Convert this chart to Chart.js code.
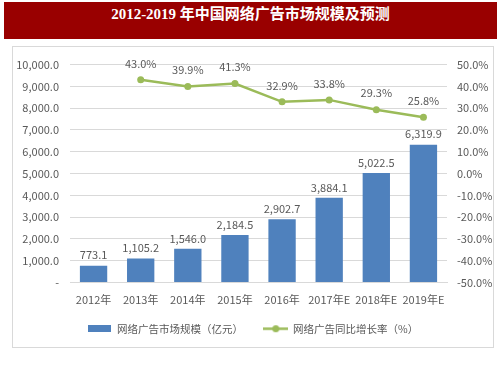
<!DOCTYPE html>
<html>
<head>
<meta charset="utf-8">
<script src="https://cdn.jsdelivr.net/npm/chart.js@4"></script>
<style>
  body { margin: 0; background: #fff; width: 503px; height: 378px; position: relative; overflow: hidden; }
  #title {
    position: absolute; left: 4px; top: 2px; width: 493px; height: 37px;
    background: #990000; color: #fff; text-align: center; line-height: 37px;
    font: bold 15px "Liberation Serif", "Noto Sans CJK SC", serif;
  }
  #box {
    position: absolute; left: 12px; top: 46px; width: 480px; height: 300px;
    border: 1px solid #d9d9d9;
  }
</style>
</head>
<body>
<div id="title">2012-2019 年中国网络广告市场规模及预测</div>
<div id="box"><canvas id="chart" width="480" height="300"></canvas></div>
<script>
const categories = ['2012年', '2013年', '2014年', '2015年', '2016年', '2017年E', '2018年E', '2019年E'];
const marketSize = [773.1, 1105.2, 1546.0, 2184.5, 2902.7, 3884.1, 5022.5, 6319.9];
const growthRate = [null, 43.0, 39.9, 41.3, 32.9, 33.8, 29.3, 25.8];

const barColor = '#4f81bd';
const lineColor = '#9bbb59';
const textColor = '#595959';
const fontFamily = '"Liberation Sans Narrow", "Noto Sans CJK SC", sans-serif';

function formatSize(v) {
    return v.toLocaleString('en-US', { minimumFractionDigits: 1, maximumFractionDigits: 1 });
}

function makeSwatch(type) {
    const c = document.createElement('canvas');
    const ctx = c.getContext('2d');
    if (type === 'bar') {
        c.width = 23; c.height = 7;
        ctx.fillStyle = barColor;
        ctx.fillRect(0, 0, 23, 7);
    } else {
        c.width = 25; c.height = 9;
        ctx.strokeStyle = lineColor;
        ctx.lineWidth = 2.5;
        ctx.beginPath(); ctx.moveTo(0, 4.5); ctx.lineTo(25, 4.5); ctx.stroke();
        ctx.fillStyle = lineColor;
        ctx.beginPath(); ctx.arc(12.5, 4.5, 3.5, 0, Math.PI * 2); ctx.fill();
    }
    return c;
}

const dataLabels = {
    id: 'dataLabels',
    afterDatasetsDraw(chart) {
        const ctx = chart.ctx;
        ctx.save();
        ctx.fillStyle = textColor;
        ctx.font = '11px ' + fontFamily;
        ctx.textAlign = 'center';
        ctx.textBaseline = 'bottom';
        chart.getDatasetMeta(0).data.forEach((bar, i) => {
            ctx.fillText(formatSize(marketSize[i]), bar.x, bar.y - 5);
        });
        chart.getDatasetMeta(1).data.forEach((pt, i) => {
            if (growthRate[i] === null) return;
            ctx.fillText(growthRate[i].toFixed(1) + '%', pt.x, pt.y - 11);
        });
        ctx.restore();
    }
};

const swatches = [makeSwatch('bar'), makeSwatch('line')];

new Chart(document.getElementById('chart'), {
    data: {
        labels: categories,
        datasets: [{
            type: 'bar',
            label: '网络广告市场规模（亿元）',
            data: marketSize,
            backgroundColor: barColor,
            barPercentage: 0.58,
            categoryPercentage: 1,
            yAxisID: 'y',
            order: 2
        }, {
            type: 'line',
            label: '网络广告同比增长率（%）',
            data: growthRate,
            borderColor: lineColor,
            backgroundColor: lineColor,
            borderWidth: 2.5,
            pointRadius: 3.5,
            pointBackgroundColor: lineColor,
            pointBorderWidth: 0,
            yAxisID: 'y1',
            order: 1
        }]
    },
    options: {
        responsive: false,
        animation: false,
        layout: { padding: { top: 8, bottom: 3 } },
        plugins: {
            tooltip: { enabled: false },
            legend: {
                position: 'bottom',
                labels: {
                    color: textColor,
                    font: { family: fontFamily, size: 10.5 },
                    usePointStyle: true,
                    pointStyleWidth: 24,
                    boxHeight: 9,
                    padding: 16,
                    generateLabels(chart) {
                        const items = Chart.defaults.plugins.legend.labels.generateLabels(chart);
                        items.sort((a, b) => a.datasetIndex - b.datasetIndex);
                        items.forEach(it => { it.pointStyle = swatches[it.datasetIndex]; });
                        items[0].text += '  ';
                        return items;
                    }
                }
            }
        },
        scales: {
            x: {
                afterFit(scale) { scale.height = 25; },
                grid: { display: false, drawTicks: false },
                border: { display: true, color: '#d9d9d9' },
                ticks: {
                    color: textColor, font: { family: fontFamily, size: 11 }, padding: 11,
                    maxRotation: 0, minRotation: 0, autoSkip: false
                }
            },
            y: {
                position: 'left',
                min: 0, max: 10000,
                afterFit(scale) { scale.width = 57; },
                grid: { color: '#d9d9d9', drawTicks: false },
                border: { display: false },
                ticks: {
                    stepSize: 1000,
                    padding: 11,
                    color: textColor,
                    font: { family: fontFamily, size: 11 },
                    callback: v => v === 0 ? '-' : formatSize(v)
                }
            },
            y1: {
                position: 'right',
                min: -50, max: 50,
                afterFit(scale) { scale.width = 46; },
                grid: { display: false, drawTicks: false },
                border: { display: false },
                ticks: {
                    stepSize: 10,
                    padding: 10,
                    color: textColor,
                    font: { family: fontFamily, size: 11 },
                    callback: v => v.toFixed(1) + '%'
                }
            }
        }
    },
    plugins: [dataLabels]
});
</script>
</body>
</html>
